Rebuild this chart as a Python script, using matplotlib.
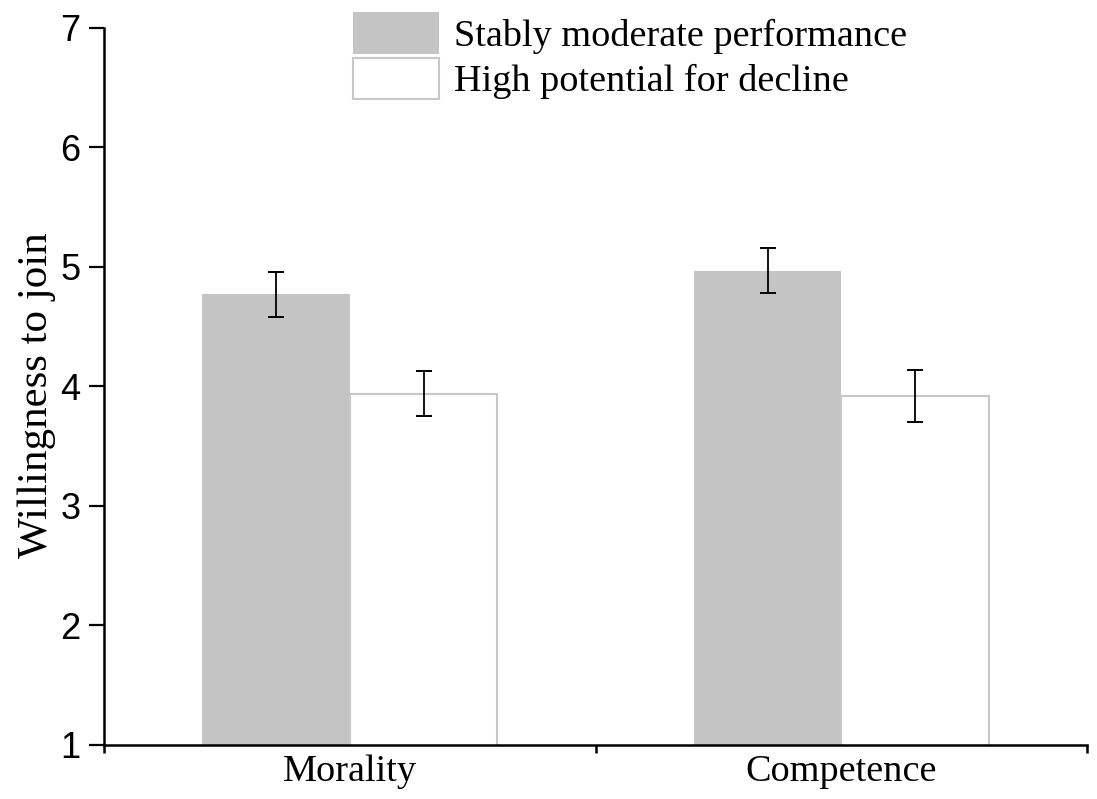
import numpy as np
import matplotlib
matplotlib.use('Agg')
import matplotlib.pyplot as plt
from matplotlib.ticker import FixedLocator

# data
groups = ['Morality', 'Competence']
series = ['Stably moderate performance', 'High potential for decline']
stable = [4.77, 4.97]
stable_err = [0.19, 0.19]
decline = [3.94, 3.92]
decline_err = [0.19, 0.22]
yticks = [1, 2, 3, 4, 5, 6, 7]

fig = plt.figure(figsize=(10.97, 7.99), dpi=100)
ax = fig.add_axes([0.0948, 0.0676, 0.8962, 0.8974])

x = np.arange(len(groups))
w = 0.30
ekw = dict(ecolor='black', elinewidth=1.3, capsize=5.5, capthick=1.4)
ax.bar(x - w/2, stable, w, yerr=stable_err, color='#c4c4c4', edgecolor='none',
       label=series[0], error_kw=ekw)
ax.bar(x + w/2, decline, w, yerr=decline_err, color='white', edgecolor='#c8c8c8',
       linewidth=1.5, label=series[1], error_kw=ekw)

ax.set_xlim(-0.5, 1.5)
ax.set_ylim(1, 7)
ax.spines['top'].set_visible(False)
ax.spines['right'].set_visible(False)
ax.spines['left'].set_linewidth(1.8)
ax.spines['bottom'].set_linewidth(1.8)

ax.set_yticks(yticks)
ax.set_yticklabels([str(t) for t in yticks], family='Liberation Sans', fontsize=26)
ax.tick_params(axis='y', direction='out', length=11, width=1.6, pad=6)

ax.set_xticks(x)
ax.set_xticklabels(groups, family='Liberation Serif', fontsize=27.5)
ax.tick_params(axis='x', which='major', length=0, pad=7)
ax.xaxis.set_minor_locator(FixedLocator([-0.5, 0.5, 1.5]))
ax.tick_params(axis='x', which='minor', direction='out', length=6, width=1.8)

ax.set_ylabel('Willingness to join', family='Liberation Serif', fontsize=31, labelpad=3)
ax.yaxis.label.set_y(0.488)

leg = ax.legend(loc='upper left', bbox_to_anchor=(0.2533, 1.022), frameon=False,
                prop={'family': 'Liberation Serif', 'size': 27.5},
                handlelength=2.24, handleheight=1.3, handletextpad=0.4,
                labelspacing=0.1, borderaxespad=0, borderpad=0)

fig.savefig('out.png', dpi=100)
